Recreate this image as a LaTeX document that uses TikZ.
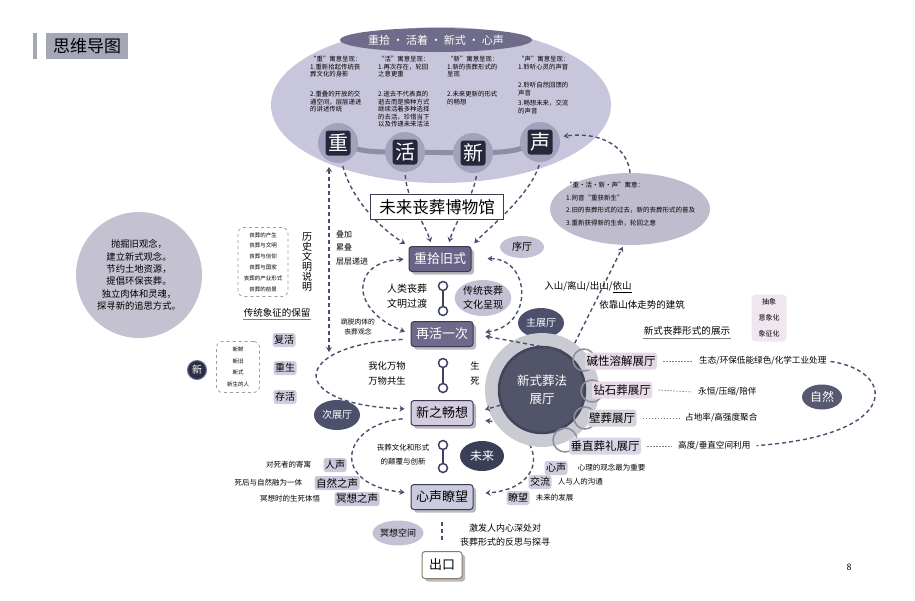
\documentclass[tikz,border=0pt]{standalone}
\usepackage{fontspec}
\setmainfont{Noto Sans CJK SC}
\usepackage{xcolor}
\usetikzlibrary{shapes.geometric,arrows.meta,positioning,shadows}

\definecolor{inkline}{HTML}{4B4F6D}
\definecolor{titlec}{HTML}{A4A7B5}
\definecolor{lavc}{HTML}{C8C6DC}
\definecolor{mottoc}{HTML}{6E6C8A}
\definecolor{ringc}{HTML}{A3A1BB}
\definecolor{glyphc}{HTML}{26273A}
\definecolor{bandc}{HTML}{8E8CA6}
\definecolor{meanc}{HTML}{BFBDCD}
\definecolor{creedc}{HTML}{C4C2D0}
\definecolor{pillc}{HTML}{D0CDE0}
\definecolor{voicec}{HTML}{C9C7DA}
\definecolor{softc}{HTML}{C3C2D4}
\definecolor{darkc}{HTML}{4D506C}
\definecolor{futurec}{HTML}{3B3E57}
\definecolor{hallring}{HTML}{CACAD2}
\definecolor{halldark}{HTML}{52546A}
\definecolor{halledge}{HTML}{42445A}
\definecolor{hallA}{HTML}{E3D7E5}
\definecolor{hallB}{HTML}{E8DBE8}
\definecolor{hallC}{HTML}{D5D3DD}
\definecolor{hallD}{HTML}{D8D6E6}
\definecolor{hringc}{HTML}{8D8D9D}
\definecolor{natc}{HTML}{56596F}
\definecolor{abstrc}{HTML}{EFE6EF}
\definecolor{pickupc}{HTML}{6B6387}
\definecolor{renewc}{HTML}{6F6A8B}
\definecolor{xinc}{HTML}{D3CCE1}
\definecolor{heartc}{HTML}{CBCBE0}
\definecolor{shadowc}{HTML}{B8B8C0}
\definecolor{stageline}{HTML}{3A3A50}
\definecolor{exitc}{HTML}{8C7B68}
\definecolor{knobc}{HTML}{3E4263}
\definecolor{dashc}{HTML}{9A98AA}
\definecolor{dotc}{HTML}{2C2E42}
\definecolor{dotring}{HTML}{6D7398}

\newcommand{\fsz}[2]{\fontsize{#1}{#2}\selectfont}

\begin{document}
\begin{tikzpicture}[
    x=1pt, y=-1pt,
    flow/.style={dash pattern=on 4pt off 3pt, line width=1.4pt, draw=inkline},
    arr/.style={-{Stealth[length=5pt,width=6pt]}},
    arrboth/.style={{Stealth[length=5pt,width=6pt]}-{Stealth[length=5pt,width=6pt]}},
    dotline/.style={dash pattern=on 1.5pt off 1.5pt, line width=0.7pt, draw=gray},
    blob/.style={ellipse, inner sep=0, align=center},
    pill/.style={rectangle, rounded corners=2.5pt, inner sep=1.5pt, minimum height=14, font=\fsz{10}{11}},
    stage/.style={rectangle, rounded corners=3pt, draw=stageline, line width=1pt, minimum width=62, minimum height=25, inner sep=0, font=\fsz{13}{14}, drop shadow={shadow xshift=3pt, shadow yshift=-3pt, fill=shadowc, opacity=1}},
    knob/.style={circle, draw=knobc, fill=white, line width=1.5pt, minimum size=9, inner sep=0},
    charring/.style={circle, fill=ringc, minimum size=40, inner sep=0},
    charbox/.style={rectangle, rounded corners=3pt, fill=glyphc, minimum size=25, inner sep=0, text=white, font=\fsz{20}{20}},
    hallbox/.style={rectangle, rounded corners=3pt, inner sep=1.5pt, minimum height=17, font=\fsz{11.5}{12}},
    hring/.style={circle, draw=hringc, line width=1.5pt, minimum size=22, inner sep=0},
    desc/.style={anchor=west, inner sep=0, font=\fsz{8.6}{10}},
    col/.style={anchor=north west, align=left, inner sep=0, font=\fsz{6.4}{7.6}},
    note/.style={align=center, inner sep=0},
    dashbox/.style={rectangle, rounded corners=6pt, draw=dashc, dashed, line width=0.8pt, align=center, inner sep=0}
]
\useasboundingbox (0,0) rectangle (915,600);

% heading
\node (bar) [rectangle, fill=titlec, minimum width=4, minimum height=26, inner sep=0] at (35,46) {};
\node (title) [rectangle, fill=titlec, minimum width=82, minimum height=26, inner sep=0, font=\fsz{17}{18}] at (87,46) {思维导图};
\node (pageno) [font=\fsz{9}{10}] at (849,567) {8};

% top ellipse
\node (topell) [blob, fill=lavc, minimum width=340, minimum height=156] at (441,105) {};
\node (motto) [blob, fill=mottoc, minimum width=166, minimum height=24, text=white, font=\fsz{11}{12}] at (436,40) {重拾 · 活着 · 新式 · 心声};
\node (colZ) [col] at (310,56) {“重”寓意呈现：\\1.重新拾起传统丧\\葬文化的身影\\[12pt]2.重叠的开放的交\\通空间，层层递进\\的讲述传统};
\node (colH) [col] at (378,56) {“活”寓意呈现：\\1.再次存在，轮回\\之意更重\\[12pt]2.逝去不代表真的\\逝去而是换种方式\\继续活着多种选择\\的去活，珍惜当下\\以及传递未来活法};
\node (colX) [col] at (447,56) {“新”寓意呈现：\\1.新的丧葬形式的\\呈现\\[12pt]2.未来更新的形式\\的畅想};
\node (colS) [col] at (518,56) {“声”寓意呈现：\\1.聆听心灵的声音\\[11pt]2.聆听自然回馈的\\声音\\[2.5pt]3.畅想未来，交流\\的声音};

\coordinate (pZ) at (338,143);
\coordinate (pH) at (405,152);
\coordinate (pX) at (473,153);
\coordinate (pS) at (540,142);
\draw[line width=5pt, draw=bandc] (pZ) .. controls (365,152) .. (pH) -- (pX) .. controls (512,152) .. (pS);
\node (ringZ) [charring] at (pZ) {};
\node (ringH) [charring] at (pH) {};
\node (ringX) [charring] at (pX) {};
\node (ringS) [charring] at (pS) {};
\node (chZ) [charbox] at (pZ) {重};
\node (chH) [charbox] at (pH) {活};
\node (chX) [charbox] at (pX) {新};
\node (chS) [charbox] at (pS) {声};

% meaning of the four words
\node (meaning) [blob, fill=meanc, minimum width=160, minimum height=72] at (630,209) {};
\node (meaningTxt) [anchor=west, align=left, inner sep=0, font=\fsz{6.5}{12.7}] at (566,204) {“重·活·新·声”寓意：\\1.同音“重获新生”\\2.旧的丧葬形式的过去，新的丧葬形式的普及\\3.重新获得新的生命，轮回之意};

% main route
\node (pickup) [stage, fill=pickupc, text=white] at (440,259) {重拾旧式};
\node (renew) [stage, fill=renewc, text=white] at (442,334) {再活一次};
\node (xin) [stage, fill=xinc] at (442,413) {新之畅想};
\node (heart) [stage, fill=heartc] at (442,497) {心声瞭望};
\node (exit) [stage, fill=white, draw=exitc, minimum width=40, minimum height=27] at (442,565) {出口};

\draw[flow, arr, shorten <=3pt, shorten >=4pt] ([xshift=4]ringZ.south) .. controls (352,200) and (380,228) .. (pickup.north west);
\draw[flow, arr, shorten <=3pt, shorten >=4pt] (ringH.south) .. controls (407,200) and (424,222) .. ([xshift=-8]pickup.north);
\draw[flow, arr, shorten <=3pt, shorten >=4pt] ([xshift=4]ringX.south) .. controls (472,200) and (455,222) .. ([xshift=8]pickup.north);
\draw[flow, arr, shorten <=3pt, shorten >=4pt] (ringS.south) .. controls (530,195) and (492,225) .. (pickup.north east);
\draw[flow, arr, shorten >=4pt] (meaning.north) .. controls (628,150) and (605,131) .. (ringS.15);

\coordinate (histTop) at (329,167);
\coordinate (histBot) at (329,352);
\draw[flow, arrboth] (histBot) -- (histTop);

\node (museum) [rectangle, draw=stageline, fill=white, line width=1.2pt, minimum width=133, minimum height=25, inner sep=0, font=\fsz{16.5}{17}] at (437,207) {未来丧葬博物馆};

% links on the route
\node (k1a) [knob] at (443,286) {};
\node (k1b) [knob] at (443,311) {};
\node (k2a) [knob] at (443,363) {};
\node (k2b) [knob] at (443,388) {};
\node (k3a) [knob] at (443,445) {};
\node (k3b) [knob] at (443,468) {};
\draw[line width=1.8pt, draw=knobc] (k1a) -- (k1b);
\draw[line width=1.8pt, draw=knobc] (k2a) -- (k2b);
\draw[line width=1.8pt, draw=knobc] (k3a) -- (k3b);
\draw[flow, shorten <=12pt, shorten >=9pt] (heart) -- (exit);

% loops
\draw[flow, arrboth, shorten <=5pt, shorten >=6pt] (pickup.west) .. controls (350,262) and (350,310) .. (renew.west);
\draw[flow, arrboth, shorten <=16pt, shorten >=12pt] (pickup.east) .. controls (530,258) and (535,325) .. (renew.east);
\draw[flow, arr, shorten <=8pt, shorten >=6pt] ([yshift=-5]renew.west) .. controls (290,345) and (285,405) .. ([yshift=4]xin.west);
\draw[flow, arr, shorten <=8pt, shorten >=6pt] ([yshift=-5]xin.west) .. controls (340,425) and (330,485) .. ([yshift=4]heart.west);
\draw[flow, arrboth, shorten <=12pt, shorten >=12pt] ([yshift=-6]xin.east) .. controls (545,428) and (552,488) .. ([yshift=3]heart.east);

% texts around the route
\node (layers) [anchor=west, align=left, inner sep=0, font=\fsz{8}{13.5}] at (336,248) {叠加\\累叠\\层层递进};
\node (humanTrans) [note, font=\fsz{10}{15}] at (407,296) {人类丧葬\\文明过渡};
\node (tradShow) [blob, fill=softc, minimum width=50, minimum height=36, font=\fsz{10}{14}] at (483,298) {传统丧葬\\文化呈现};
\node (escape) [note, font=\fsz{6.8}{10}] at (358,327) {跳脱肉体的\\丧葬观念};
\node (oneWorld) [note, font=\fsz{9.3}{15}] at (387,373) {我化万物\\万物共生};
\node (lifeDeath) [note, font=\fsz{9.3}{15}] at (475,373) {生\\死};
\node (innov) [note, font=\fsz{7.5}{14}] at (403,455) {丧葬文化和形式\\的颠覆与创新};
\node (future) [blob, fill=futurec, text=white, minimum width=44, minimum height=30, font=\fsz{12}{12}] at (482,456) {未来};
\node (medSpace) [blob, fill=softc, minimum width=46, minimum height=25, font=\fsz{9}{10}] at (398,533) {冥想空间};
\node (reflect) [note, font=\fsz{9}{14.5}] at (505,535) {激发人内心深处对\\丧葬形式的反思与探寻};

\node (prelude) [blob, fill=softc, minimum width=44, minimum height=22, font=\fsz{10}{10}] at (522,247) {序厅};
\node (mainHall) [blob, fill=darkc, text=white, minimum width=46, minimum height=30, font=\fsz{10}{10}] at (541,323) {主展厅};
\node (sideHall) [blob, fill=darkc, text=white, minimum width=46, minimum height=30, font=\fsz{10}{10}] at (337,415) {次展厅};

% left side
\node (creed) [circle, fill=creedc, minimum size=126, inner sep=0, align=center, font=\fsz{9.3}{12.4}] at (139,275) {抛掘旧观念，\\建立新式观念。\\节约土地资源，\\提倡环保丧葬。\\独立肉体和灵魂，\\探寻新的追思方式。};
\node (hist) [dashbox, minimum width=50, minimum height=69, font=\fsz{5.5}{10.8}] at (263,262) {丧葬的产生\\丧葬与文明\\丧葬与信仰\\丧葬与国家\\丧葬的产业形式\\丧葬的前景};
\node (histV) [note, font=\fsz{10}{10}] at (307,262) {历\\史\\文\\明\\说\\明};
\node (keep) [inner sep=1pt, font=\fsz{9.5}{10}] at (277,313) {传统象征的保留};
\draw[line width=0.8pt, draw=gray] ([yshift=-1]keep.south west) -- ([yshift=-1]keep.south east);
\node (revive) [pill, fill=pillc] at (284,340) {复活};
\node (reborn) [pill, fill=pillc] at (285,368) {重生};
\node (survive) [pill, fill=pillc] at (285,397) {存活};
\node (newList) [dashbox, minimum width=43, minimum height=51, font=\fsz{5.5}{11.5}] at (238,367) {新鲜\\新旧\\新式\\新生的人};
\node (newDot) [circle, fill=dotc, draw=dotring, line width=1pt, minimum size=19, inner sep=0, text=white, font=\fsz{10}{10}] at (197,370) {新};

% voices
\node (pHuman) [pill, fill=voicec] at (335,465) {人声};
\node (pNature) [pill, fill=voicec, font=\fsz{10.5}{11}] at (337,483) {自然之声};
\node (pMedit) [pill, fill=voicec, font=\fsz{10.5}{11}] at (357,499) {冥想之声};
\node (tHuman) [inner sep=0, font=\fsz{7.5}{8}, left=12pt of pHuman] {对死者的寄寓};
\node (tNature) [inner sep=0, font=\fsz{7.5}{8}, left=12pt of pNature] {死后与自然融为一体};
\node (tMedit) [inner sep=0, font=\fsz{7.5}{8}, left=14pt of pMedit] {冥想时的生死体悟};

\node (pSoul) [pill, fill=pillc] at (556,468) {心声};
\node (pTalk) [pill, fill=pillc] at (540,482) {交流};
\node (pLook) [pill, fill=pillc] at (518,498) {瞭望};
\node (tSoul) [inner sep=0, font=\fsz{7.5}{8}, right=10pt of pSoul] {心理的观念最为重要};
\node (tTalk) [inner sep=0, font=\fsz{7.5}{8}, right=6pt of pTalk] {人与人的沟通};
\node (tLook) [inner sep=0, font=\fsz{7.5}{8}, right=6pt of pLook] {未来的发展};

% new burial hall
\node (hallOut) [circle, fill=hallring, minimum size=114, inner sep=0] at (542,390) {};
\node (hallIn) [circle, fill=halldark, draw=halledge, line width=2.5pt, minimum size=86, inner sep=0, text=white, align=center, font=\fsz{12.5}{18}] at (542,390) {新式葬法\\展厅};
\draw[flow, arr, shorten >=12pt] (hallIn.64) -- (renew.east);
\draw[flow, arr, shorten >=12pt] (hallIn.200) -- (xin.east);
\draw[flow, arr, shorten >=2pt] (hallOut.55) -- (meaning.260);

\node (ringA) [hring] at (584,360) {};
\node (ringB) [hring] at (592,391) {};
\node (ringC) [hring] at (585,418) {};
\node (ringD) [hring, minimum size=24] at (565,440) {};
\node (hallA) [hallbox, fill=hallA] at (621,361) {碱性溶解展厅};
\node (hallB) [hallbox, fill=hallB] at (622,390) {钻石葬展厅};
\node (hallC) [hallbox, fill=hallC] at (612,418) {壁葬展厅};
\node (hallD) [hallbox, fill=hallD] at (605,446) {垂直葬礼展厅};

\node (descA) [desc] at (699,361) {生态/环保低能绿色/化学工业处理};
\node (descB) [desc] at (698,392) {永恒/压缩/陪伴};
\node (descC) [desc] at (685,418) {占地率/高强度聚合};
\node (descD) [desc] at (678,446) {高度/垂直空间利用};
\draw[dotline] ([xshift=6]hallA.east) -- ([xshift=-6]descA.west);
\draw[dotline] ([xshift=6]hallB.east) -- ([xshift=-6]descB.west);
\draw[dotline] ([xshift=6]hallC.east) -- ([xshift=-6]descC.west);
\draw[dotline] ([xshift=6]hallD.east) -- ([xshift=-6]descD.west);
\draw[flow, shorten <=4pt, shorten >=6pt] (descA.east) .. controls (895,370) and (905,435) .. (descD.east);
\node (nature) [blob, fill=natc, text=white, minimum width=40, minimum height=25, font=\fsz{12}{12}] at (822,397) {自然};

% mountain and display notes
\node (mount) [inner sep=0, font=\fsz{9.5}{10}] at (588,287) {入山/离山/出山/\underline{依山}};
\node (slope) [inner sep=0, font=\fsz{9.5}{10}] at (642,305) {依靠山体走势的建筑};
\node (showcase) [inner sep=1pt, font=\fsz{9.6}{10}] at (687,331) {新式丧葬形式的展示};
\draw[line width=0.8pt, draw=gray] ([yshift=-2]showcase.south west) -- ([yshift=-2]showcase.south east);
\node (abstr) [rectangle, rounded corners=4pt, fill=abstrc, minimum width=35, minimum height=47, inner sep=0, align=center, font=\fsz{7}{16}] at (769,318) {抽象\\意象化\\象征化};
\end{tikzpicture}
\end{document}
